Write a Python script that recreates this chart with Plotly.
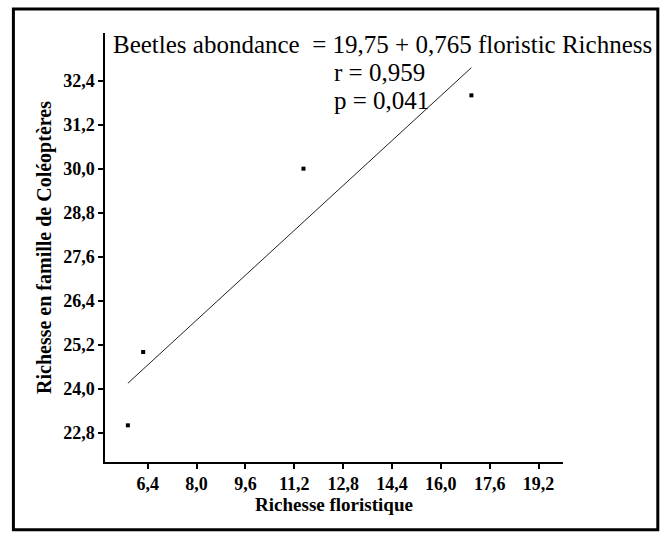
import plotly.graph_objects as go

# Data
richesse_floristique = [5.75, 6.25, 11.5, 17.0]
richesse_coleopteres = [23.0, 25.0, 30.0, 32.0]
intercept = 19.75
slope = 0.765
fit_x = [min(richesse_floristique), max(richesse_floristique)]
fit_y = [intercept + slope * v for v in fit_x]

x_tickvals = [6.4, 8.0, 9.6, 11.2, 12.8, 14.4, 16.0, 17.6, 19.2]
x_ticktext = ["6,4", "8,0", "9,6", "11,2", "12,8", "14,4", "16,0", "17,6", "19,2"]
y_tickvals = [22.8, 24.0, 25.2, 26.4, 27.6, 28.8, 30.0, 31.2, 32.4]
y_ticktext = ["22,8", "24,0", "25,2", "26,4", "27,6", "28,8", "30,0", "31,2", "32,4"]

SERIF = "Liberation Serif"

fig = go.Figure()
fig.add_trace(go.Scatter(
    x=fit_x, y=fit_y, mode="lines",
    line=dict(color="#222222", width=1), showlegend=False, hoverinfo="skip"))
fig.add_trace(go.Scatter(
    x=richesse_floristique, y=richesse_coleopteres, mode="markers",
    marker=dict(symbol="square", size=4, color="black"), showlegend=False))

axis_common = dict(
    showline=True, linecolor="black", linewidth=1.5, mirror=False,
    ticks="outside", ticklen=5, tickwidth=1.5, tickcolor="black",
    showgrid=False, zeroline=False,
    tickfont=dict(family=SERIF, size=18, color="black", weight="bold"),
)

fig.update_layout(
    width=663, height=536,
    margin=dict(l=105, r=100, t=33, b=74),
    paper_bgcolor="white", plot_bgcolor="white",
    xaxis=dict(range=[5.0, 20.0], tickvals=x_tickvals, ticktext=x_ticktext,
               title=dict(text="Richesse floristique", standoff=4,
                          font=dict(family=SERIF, size=19, color="black", weight="bold")),
               **axis_common),
    yaxis=dict(range=[22.0, 33.7], tickvals=y_tickvals, ticktext=y_ticktext,
               title=dict(text="Richesse en famille de Coléoptères", standoff=6,
                          font=dict(family=SERIF, size=20, color="black", weight="bold")),
               **axis_common),
    shapes=[dict(type="rect", xref="paper", yref="paper",
                 x0=-0.2, x1=1.207, y0=-0.158, y1=1.056,
                 line=dict(color="black", width=3), fillcolor="rgba(0,0,0,0)")],
    annotations=[
        dict(text="Beetles abondance  = 19,75 + 0,765 floristic Richness",
             xref="paper", yref="paper", x=0.605, y=0.974,
             xanchor="center", yanchor="middle", showarrow=False,
             font=dict(family=SERIF, size=25, color="black")),
        dict(text="r = 0,959", xref="paper", yref="paper", x=0.495, y=0.909,
             xanchor="left", yanchor="middle", showarrow=False,
             font=dict(family=SERIF, size=25, color="black")),
        dict(text="p = 0,041", xref="paper", yref="paper", x=0.495, y=0.843,
             xanchor="left", yanchor="middle", showarrow=False,
             font=dict(family=SERIF, size=25, color="black")),
    ],
)

fig.write_html("out.html")
